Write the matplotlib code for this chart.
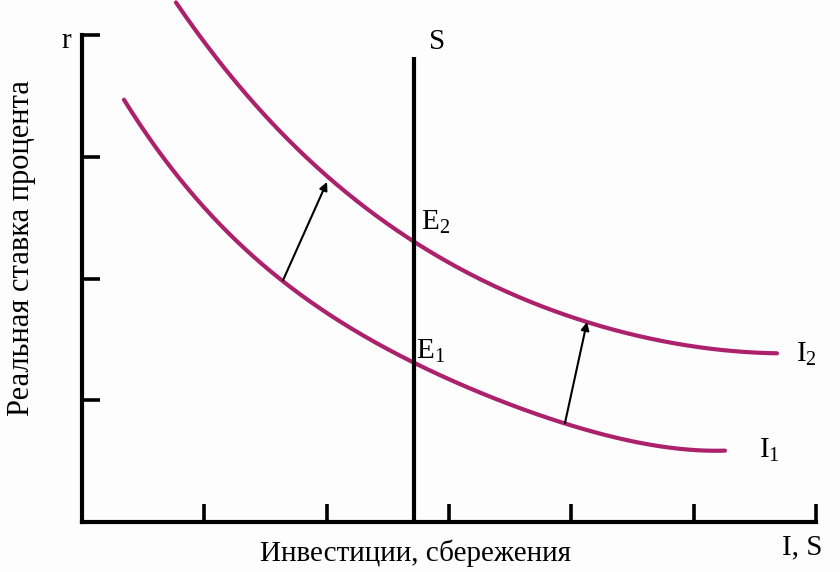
import matplotlib
matplotlib.use("Agg")
import matplotlib.pyplot as plt
import numpy as np

# ---- data ----
i1_x = [0.343, 0.638, 0.907, 1.373, 1.619, 1.888, 2.166, 2.436, 2.706, 2.984, 3.254, 3.523, 3.948, 4.341, 4.750, 5.256]
i1_y = [3.474, 3.031, 2.669, 2.209, 2.004, 1.799, 1.618, 1.454, 1.298, 1.183, 1.068, 0.945, 0.813, 0.698, 0.624, 0.583]
i2_x = [0.768, 0.907, 1.185, 1.455, 1.725, 2.003, 2.330, 2.706, 3.172, 3.580, 4.128, 4.668, 5.215, 5.681]
i2_y = [4.263, 4.066, 3.696, 3.409, 3.138, 2.793, 2.538, 2.333, 2.045, 1.848, 1.643, 1.495, 1.413, 1.388]
s_x = 2.71
s_top = 3.82
arrow_starts = [(1.643, 1.985), (3.948, 0.813)]
arrow_ends = [(2.003, 2.793), (4.128, 1.643)]
x_ticks = [0, 1, 2, 3, 4, 5, 6]
y_ticks = [1, 2, 3, 4]

plt.rcParams['font.family'] = ['Liberation Serif', 'DejaVu Serif']
curve_color = '#AC216C'

fig = plt.figure(figsize=(8.4, 5.72), dpi=100)
fig.patch.set_facecolor('#fdfdfd')
ax = fig.add_axes([82/840, 50/572, 734/840, 487/572])
ax.set_facecolor('#fdfdfd')
ax.set_xlim(0, 6)
ax.set_ylim(0, 4)
for side in ['top', 'right']:
    ax.spines[side].set_visible(False)
for side in ['left', 'bottom']:
    ax.spines[side].set_linewidth(3)
    ax.spines[side].set_color('black')
    ax.spines[side].set_capstyle('projecting')
ax.set_xticks(x_ticks)
ax.set_yticks(y_ticks)
ax.tick_params(direction='in', length=13, width=2.6, labelbottom=False, labelleft=False)

# smooth rendering of the read points (least-squares curve through them)
for xs, ys in [(i1_x, i1_y), (i2_x, i2_y)]:
    coef = np.polyfit(xs, ys, 4)
    xx = np.linspace(xs[0], xs[-1], 300)
    ax.plot(xx, np.polyval(coef, xx), color=curve_color, lw=3,
            solid_capstyle='round', clip_on=False)
ax.plot([s_x, s_x], [0, s_top], color='black', lw=3, solid_capstyle='butt')

for (x0, y0), (x1, y1) in zip(arrow_starts, arrow_ends):
    ax.annotate('', xy=(x1, y1), xytext=(x0, y0),
                arrowprops=dict(arrowstyle='-|>', color='black', lw=1.5,
                                mutation_scale=12, shrinkA=0, shrinkB=0))

fs = 21
ax.text(2.90, 3.94, 'S', fontsize=fs, ha='center', va='center')
ax.text(2.77, 2.46, 'E$_{\\mathregular{2}}$', fontsize=fs, ha='left', va='center')
ax.text(2.73, 1.40, 'E$_{\\mathregular{1}}$', fontsize=fs, ha='left', va='center')
ax.text(5.84, 1.38, 'I$_{\\mathregular{2}}$', fontsize=fs, ha='left', va='center', clip_on=False)
ax.text(5.53, 0.59, 'I$_{\\mathregular{1}}$', fontsize=fs, ha='left', va='center', clip_on=False)

fig.text(66/840, 1 - 41/572, 'r', fontsize=fs, ha='center', va='center')
fig.text(22/840, 1 - 248/572, 'Реальная ставка процента', fontsize=22, rotation=90,
         ha='center', va='center')
fig.text(416/840, 1 - 553/572, 'Инвестиции, сбережения', fontsize=fs, ha='center', va='center')
fig.text(802/840, 1 - 547/572, 'I, S', fontsize=fs, ha='center', va='center')

fig.savefig('out.png', dpi=100, facecolor=fig.get_facecolor())
